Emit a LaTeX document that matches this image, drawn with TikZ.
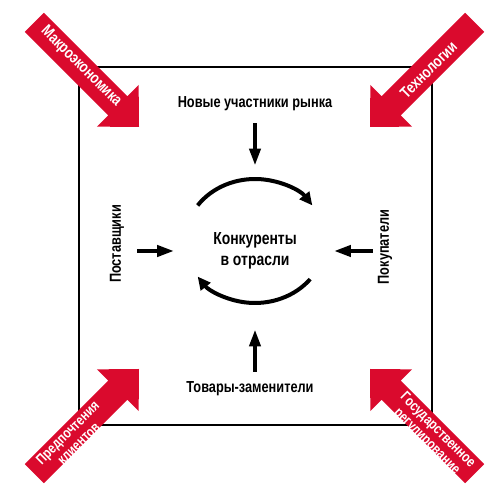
\documentclass[tikz,border=0pt]{standalone}
\usepackage{fontspec}
\setmainfont{Liberation Sans}[FakeStretch=0.8]
\usetikzlibrary{arrows.meta, positioning}
\definecolor{forcered}{RGB}{218,10,45}
\tikzset{
    frame/.style={draw, line width=1.8bp},
    forcearrow/.pic={\fill[forcered] (0,0) -- (-30,29.5) -- (-30,13.5) -- (-148,13.5) -- (-148,-13.5) -- (-30,-13.5) -- (-30,-29.5) -- cycle;},
    forcelabel/.style={text=white, font=\bfseries\fontsize{16}{16}\selectfont, inner sep=0pt, align=center},
    smalllabel/.style={forcelabel, font=\bfseries\fontsize{14.5}{15.5}\selectfont},
    player/.style={font=\bfseries\fontsize{16}{18}\selectfont, inner sep=0pt, align=center},
    push/.style={line width=4bp, -{Triangle[length=17bp, width=11bp]}},
    rivalry/.style={line width=4bp, -{Triangle[length=13bp, width=12bp]}}
}
\begin{document}
\begin{tikzpicture}[x=1bp, y=1bp, node distance=20bp, on grid]
    \useasboundingbox (0,0) rectangle (500,498);

    % Frame of the industry
    \draw[frame] (79,73) rectangle (432,431);

    % Outside forces
    \pic[rotate=-45] at (139,371) {forcearrow};
    \pic[rotate=-135] at (370,371) {forcearrow};
    \pic[rotate=45] at (139,129) {forcearrow};
    \pic[rotate=135] at (370,129) {forcearrow};
    \node (macro) [forcelabel, rotate=-45] at (81,431.5) {Макроэкономика};
    \node (tech) [forcelabel, rotate=45] at (428.5,428) {Технологии};
    \node (prefs) [smalllabel, rotate=45] at (73,60) {Предпочтения\\клиентов};
    \node (gov) [smalllabel, rotate=-45] at (432,62) {Государственное\\регулирование};

    % Center and the four players
    \node (rivals) [player, font=\bfseries\fontsize{17.5}{21}\selectfont] at (255,247) {Конкуренты\\в отрасли};
    \node (entrants) [player, above=147bp of rivals] {Новые участники рынка};
    \node (substitutes) [player, below=138bp of rivals, xshift=-5bp] {Товары-заменители};
    \node (suppliers) [player, rotate=90] at (117,254) {Поставщики};
    \node (buyers) [player, rotate=90] at (385,251) {Покупатели};

    % Pressure on the rivals
    \draw[push, shorten <=12bp, shorten >=67bp] (entrants) -- (rivals);
    \draw[push, shorten <=10bp, shorten >=60bp] (substitutes.north -| rivals) -- (rivals);
    \draw[push, shorten <=13bp, shorten >=39bp] (suppliers.south |- rivals) -- (rivals);
    \draw[push, shorten <=5bp, shorten >=37bp] (buyers.north |- rivals) -- (rivals);

    % Rivalry cycle
    \coordinate (hub) at (255,257);
    \draw[rivalry] (hub) ++(145:70bp and 62bp) arc[start angle=145, end angle=35, x radius=70bp, y radius=62bp];
    \draw[rivalry] (hub) ++(-38:70bp and 62bp) arc[start angle=-38, end angle=-145, x radius=70bp, y radius=62bp];

\end{tikzpicture}
\end{document}
